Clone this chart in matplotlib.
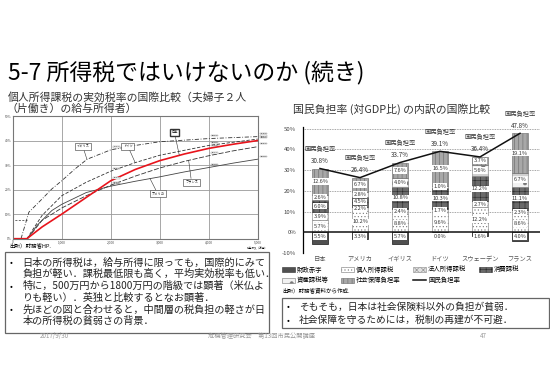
import matplotlib
matplotlib.use('Agg')
import matplotlib.pyplot as plt
from matplotlib.patches import Patch, Rectangle
from matplotlib.lines import Line2D

plt.rcParams['font.family'] = ['Noto Sans CJK JP', 'DejaVu Sans']
plt.rcParams['hatch.linewidth'] = 0.4

W, H = 550, 387

# left chart: effective income tax rate (%) by salary income (万円)
jp_x = [0, 290, 600, 1000, 1500, 2000, 2500, 3000, 3500, 4000, 4500, 5000]
jp_y = [0, 0, 4.8, 10.0, 16.8, 23.6, 28.2, 31.8, 34.5, 36.8, 38.5, 40.0]
uk_x = [170, 330, 590, 800, 1000, 1270, 1520, 2000, 2500, 3000, 4000, 5000]
uk_y = [0, 10.8, 16.0, 20.3, 23.6, 28.4, 32.4, 36.2, 38.0, 39.5, 40.8, 41.6]
de_x = [290, 600, 1000, 1500, 2000, 2500, 3000, 4000, 5000]
de_y = [0, 9.5, 17.5, 23.0, 27.5, 31.0, 34.0, 38.0, 40.6]
fr_x = [300, 600, 1000, 1500, 2000, 2500, 3000, 3500, 4000, 4500, 5000]
fr_y = [0, 7.5, 12.5, 17.5, 21.8, 25.5, 28.8, 31.5, 33.8, 35.8, 37.5]
us_x = [300, 500, 800, 1000, 1500, 2000, 2500, 3000, 3500, 4000, 4500, 5000]
us_y = [0, 5.5, 11.5, 14.0, 18.8, 21.4, 23.4, 25.2, 27.2, 29.0, 30.8, 32.4]
base_x = [0, 0, 300]
base_y = [0, 7.8, 7.8]

# right chart: 国民負担率 breakdown (% of GDP)
countries = ['日本', 'アメリカ', 'イギリス', 'ドイツ', 'スウェーデン', 'フランス']
personal = [5.7, 10.2, 8.8, 9.6, 12.2, 8.6]
corporate = [3.9, 2.2, 2.4, 1.7, 2.7, 2.3]
consumption = [6.0, 4.5, 10.8, 10.3, 12.2, 11.1]
asset = [2.6, 2.8, 4.0, 1.0, 5.6, 6.7]
social = [12.6, 6.7, 7.6, 16.5, 3.7, 19.1]
deficit = [5.5, 3.3, 5.7, 0.0, 1.6, 4.0]
burden = [30.8, 26.4, 33.7, 39.1, 36.4, 47.8]


def box(x0, y0, x1, y1):
    return [x0 / W, 1 - y1 / H, (x1 - x0) / W, (y1 - y0) / H]


def fx(x):
    return x / W


def fy(y):
    return 1 - y / H


fig = plt.figure(figsize=(W / 100, H / 100), dpi=100)

fig.text(fx(8), fy(73), '5-7 所得税ではいけないのか (続き)', fontsize=16.5, va='center')
fig.text(fx(8), fy(97.5), '個人所得課税の実効税率の国際比較（夫婦子２人', fontsize=7.8, va='center', color='#333')
fig.text(fx(6), fy(109), '（片働き）の給与所得者）', fontsize=7.8, va='center', color='#333')
fig.text(fx(392), fy(109), '国民負担率 (対GDP比) の内訳の国際比較', fontsize=7.8, va='center', ha='center', color='#333')

# ---- left chart
ax1 = fig.add_axes(box(12.7, 116, 257.7, 238.7))
ax1.set_xlim(0, 5000)
ax1.set_ylim(0, 50)
ax1.set_xticks(range(0, 5001, 1000))
ax1.set_xticklabels(['0', '1,000', '2,000', '3,000', '4,000', '5,000'])
ax1.set_yticks(range(0, 51, 10))
ax1.set_yticklabels([f'{v}%' for v in range(0, 51, 10)])
ax1.tick_params(length=0, labelsize=2.3, pad=1.0, colors='#444')
ax1.grid(True, color='#999', lw=0.6)
for s in ax1.spines.values():
    s.set_color('#777')
    s.set_linewidth(0.8)
ax1.text(5000, -3.2, '給与収入（万円）', fontsize=1.9, ha='center', va='top')

ax1.plot(base_x, base_y, color='#333', lw=0.5, ls=(0, (3, 2)))
ax1.plot(uk_x, uk_y, color='#333', lw=0.6, ls=(0, (5, 2, 1, 2)))
ax1.plot(de_x, de_y, color='#333', lw=0.6, ls=(0, (4, 2)))
ax1.plot(fr_x, fr_y, color='#333', lw=0.6, ls=(0, (6, 2)))
ax1.plot(us_x, us_y, color='#444', lw=0.6)
ax1.plot(jp_x, jp_y, color='#e8141c', lw=1.2)

curves = [(uk_x, uk_y), (de_x, de_y), (jp_x, jp_y), (fr_x, fr_y), (us_x, us_y)]
for cx, cy in curves:
    vals = dict(zip(cx, cy))
    for inc in (2000, 4000, 5000):
        ax1.text(inc + 60, vals[inc] + 1.2, f'{vals[inc]:.1f}%', fontsize=1.7,
                 va='center', clip_on=False,
                 bbox=dict(boxstyle='square,pad=0.1', fc='white', ec='#666', lw=0.2))

names = [('イギリス', (1515, 32.3), (1430, 37.7), 0.4),
         ('ドイツ', (2500, 31.0), (2350, 37.7), 0.4),
         ('日本', (3400, 34.0), (3300, 43.4), 1.0),
         ('フランス', (3590, 32.0), (3650, 23.0), 0.4),
         ('アメリカ', (2800, 24.6), (2960, 18.3), 0.4)]
for nm, xy, txy, blw in names:
    ax1.annotate(nm, xy=xy, xytext=txy, fontsize=2.3, ha='center', va='center',
                 arrowprops=dict(arrowstyle='-', lw=0.4, color='#333', shrinkA=0, shrinkB=0),
                 bbox=dict(boxstyle='square,pad=0.5', fc='white', ec='#333', lw=blw))

fig.text(fx(9), fy(245.5), '出所）財務省HP.', fontsize=4, va='center')

# ---- right chart
ax2 = fig.add_axes(box(303, 126.7, 540, 253))
ax2.set_xlim(-0.425, 5.5)
ax2.set_ylim(-10, 51)
xs = list(range(len(countries)))
bw = 0.4

styles = [
    ('個人所得課税', personal, dict(facecolor='white', hatch='.....', edgecolor='#777')),
    ('法人所得課税', corporate, dict(facecolor='#e2e2e2', hatch='xxxxx', edgecolor='#888')),
    ('消費課税', consumption, dict(facecolor='#6a6a6a', hatch='+++', edgecolor='#2a2a2a')),
    ('資産課税等', asset, dict(facecolor='#f2f2f2', hatch='-.', edgecolor='#777')),
    ('社会保障負担率', social, dict(facecolor='#a8a8a8', hatch='||||', edgecolor='#666')),
]
deficit_style = dict(facecolor='#505050', edgecolor='#303030')

bottom = [0.0] * len(countries)
for name, vals, st in styles:
    ax2.bar(xs, vals, bw, bottom=bottom, linewidth=0.4, **st)
    for i, v in enumerate(vals):
        ax2.text(i, bottom[i] + v / 2, f'{v:.1f}%', fontsize=4, ha='center', va='center',
                 color='#333', bbox=dict(boxstyle='square,pad=0.12', fc='white', ec='none'))
    bottom = [b + v for b, v in zip(bottom, vals)]

ax2.bar(xs, [-d for d in deficit], bw, linewidth=0.6, **deficit_style)
for i, d in enumerate(deficit):
    bb = dict(boxstyle='square,pad=0.15', fc='white', ec='none') if d > 0 else None
    ax2.text(i, -1.9, f'{d:.1f}%', fontsize=4, ha='center', va='center', color='#333', bbox=bb)

ax2.plot(xs, burden, color='#111', lw=1.1)
for i, b in enumerate(burden):
    ax2.annotate(f'国民負担率\n{b:.1f}%', xy=(i, b), xytext=(0, 2.5), textcoords='offset points',
                 ha='center', va='bottom', fontsize=4.5, linespacing=1.7, color='#333')

ax2.set_yticks(range(-10, 51, 10))
ax2.set_yticklabels([f'{v}%' for v in range(-10, 51, 10)])
for v in range(10, 51, 10):
    ax2.axhline(v, color='#888', lw=0.6, ls=(0, (1, 1)), zorder=0)
ax2.axhline(0, color='#111', lw=1.1, zorder=3)
ax2.set_xticks(xs)
ax2.set_xticklabels(countries)
ax2.tick_params(axis='x', length=0, labelsize=4.5, colors='#555', pad=1.5)
ax2.tick_params(axis='y', length=0, labelsize=4.3, colors='#444', pad=5)
for s in ('top', 'right', 'bottom'):
    ax2.spines[s].set_visible(False)
ax2.spines['left'].set_linewidth(0.9)

handles = [Patch(label='財政赤字', linewidth=0.4, **deficit_style)]
handles += [Patch(label=name, linewidth=0.4, **st) for name, _, st in styles]
handles.append(Line2D([], [], color='#111', lw=1.1, label='国民負担率'))
order = [0, 4, 1, 5, 2, 6, 3]
ax2.legend([handles[k] for k in order], [handles[k].get_label() for k in order],
           ncol=4, loc='upper left', bbox_to_anchor=(fx(282), fy(265.5)),
           bbox_transform=fig.transFigure, frameon=False, fontsize=4.6,
           handlelength=2.0, handleheight=0.8, handletextpad=0.3,
           columnspacing=2.0, labelspacing=0.45, borderaxespad=0, borderpad=0)

fig.text(fx(282), fy(290), '出所）財務省資料から作成.', fontsize=4, va='center')

# ---- text boxes
fig.patches.append(Rectangle((fx(4.7), fy(333)), (269 - 4.7) / W, (333 - 252) / H,
                             transform=fig.transFigure, fill=False, ec='#666', lw=0.9))
left_lines = [
    ('•', '日本の所得税は，給与所得に限っても，国際的にみて'),
    ('', '負担が軽い．課税最低限も高く，平均実効税率も低い．'),
    ('•', '特に，500万円から1800万円の階級では顕著（米仏よ'),
    ('', 'りも軽い）．英独と比較するとなお顕著．'),
    ('•', '先ほどの図と合わせると，中間層の税負担の軽さが日'),
    ('', '本の所得税の貧弱さの背景．'),
]
ly = [262.3, 273.8, 286, 297.5, 309.3, 320.8]
for (b, t), y in zip(left_lines, ly):
    if b:
        fig.text(fx(10), fy(y), b, fontsize=6, va='center')
    fig.text(fx(22.5), fy(y), t, fontsize=7.3, va='center', color='#222')

fig.patches.append(Rectangle((fx(282), fy(328)), (549 - 282) / W, (328 - 298) / H,
                             transform=fig.transFigure, fill=False, ec='#666', lw=0.9))
right_lines = ['そもそも，日本は社会保険料以外の負担が貧弱．',
               '社会保障を守るためには，税制の再建が不可避．']
for t, y in zip(right_lines, [307, 320]):
    fig.text(fx(287), fy(y), '•', fontsize=6, va='center')
    fig.text(fx(299), fy(y), t, fontsize=7.0, va='center', color='#222')

# ---- footer
fig.text(fx(40), fy(336), '2017/9/30', fontsize=4.5, color='#999', va='center')
fig.text(fx(262), fy(336), '危機管理研究会　第13回市民公開講座', fontsize=4.5, color='#999',
         va='center', ha='center')
fig.text(fx(480), fy(336), '47', fontsize=4.5, color='#999', va='center')

fig.savefig('out.png', dpi=100)
